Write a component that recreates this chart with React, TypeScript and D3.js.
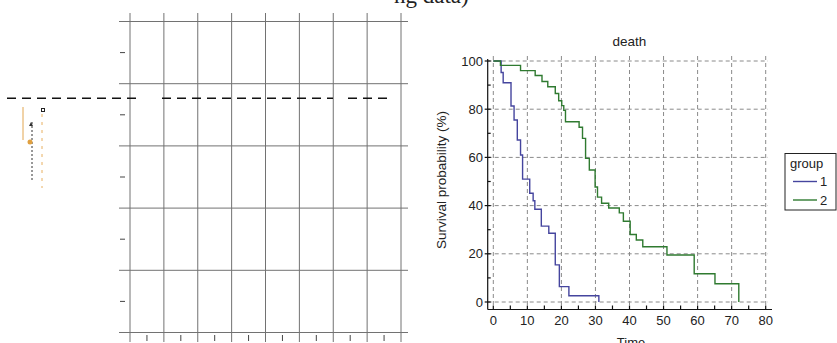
import React from "react";
import * as d3 from "d3";

// Kaplan–Meier step data: [time, survival %] after each drop
const group1Steps: [number, number][] = [
  [0, 100], [2.3, 95.2], [2.9, 91.0], [5.2, 81.3], [6.1, 75.5], [7.05, 67.2],
  [8.0, 61.0], [8.6, 51.0], [10.7, 45.1], [11.7, 42.0], [12.2, 38.5],
  [14.1, 31.5], [16.3, 28.5], [18.2, 15.4], [19.4, 6.4], [22.2, 2.6], [31.0, 0],
];
const group2Steps: [number, number][] = [
  [0, 100], [2.1, 98.2], [8.0, 96.0], [12.3, 94.0], [14.3, 91.5], [16.0, 89.3],
  [18.2, 86.5], [19.2, 83.5], [20.1, 81.5], [20.7, 79.5], [21.2, 74.8],
  [25.2, 72.5], [26.2, 67.9], [27.1, 59.6], [28.2, 54.8], [29.9, 47.7],
  [30.6, 43.5], [31.8, 41.0], [33.9, 39.0], [37.0, 37.0], [38.2, 33.5],
  [40.2, 28.0], [42.0, 25.7], [43.9, 22.9], [51.0, 19.5], [59.0, 11.7],
  [65.1, 7.6], [72.1, 0],
];
const groupNames = ["1", "2"];
const groupColors = ["#45459e", "#2f7a30"];
const xTickValues = [0, 10, 20, 30, 40, 50, 60, 70, 80];
const yTickValues = [0, 20, 40, 60, 80, 100];
const chartTitle = "death";
const xLabel = "Time";
const yLabel = "Survival probability (%)";

// Empty grid panel on the left
const gridCols = [0, 1, 2, 3, 4, 5, 6, 7, 8];
const gridRows = [0, 1, 2, 3, 4, 5];

export default function App() {
  const W = 837;
  const H = 343;
  const font = "'Liberation Sans', Arial, sans-serif";

  // Survival plot scales
  const x = d3.scaleLinear().domain([0, 80]).range([493.3, 765.7]);
  const y = d3.scaleLinear().domain([0, 100]).range([302, 61]);
  const axisX = 487.7;
  const axisY = 309.5;

  const stepLine = d3
    .line<[number, number]>()
    .x((d) => x(d[0]))
    .y((d) => y(d[1]))
    .curve(d3.curveStepAfter);

  // Left grid scales
  const gx = d3.scaleLinear().domain([0, 8]).range([130, 401]);
  const gy = d3.scaleLinear().domain([0, 5]).range([332.5, 21.5]);

  const minorX = d3.range(0, 81, 5);
  const minorY = d3.range(10, 100, 20);

  return (
    <svg
      width={W}
      height={H}
      style={{ position: "absolute", left: 0, top: 0, background: "#fff" }}
    >
      <rect width={W} height={H} fill="#fff" />

      {/* heading fragment */}
      <text x={394} y={3} fontFamily="'Liberation Serif', serif" fontSize={23} fill="#222">
        ng data)
      </text>

      {/* left grid panel */}
      <g stroke="#727272" strokeWidth={1}>
        {gridCols.map((c) => (
          <line key={"gc" + c} x1={gx(c)} x2={gx(c)} y1={13} y2={342} />
        ))}
        {gridRows.map((r) => (
          <line key={"gr" + r} x1={119} x2={408} y1={gy(r)} y2={gy(r)} />
        ))}
        {gridRows.slice(0, -1).map((r) => (
          <line key={"gm" + r} x1={120} x2={125} y1={gy(r + 0.5)} y2={gy(r + 0.5)} stroke="#444" />
        ))}
        {gridCols.slice(0, -1).map((c) => (
          <line key={"gxm" + c} x1={gx(c + 0.5)} x2={gx(c + 0.5)} y1={335} y2={341} stroke="#444" />
        ))}
      </g>

      {/* dashed reference line across the left panel */}
      <g stroke="#111" strokeWidth={1.6} strokeDasharray="9 6">
        <line x1={7} x2={137} y1={98.3} y2={98.3} />
        <line x1={162} x2={333} y1={98.3} y2={98.3} />
        <line x1={348} x2={393} y1={98.3} y2={98.3} />
      </g>

      {/* small marker cluster at the far left */}
      <g>
        <line x1={23} x2={23} y1={107} y2={140} stroke="#e2a650" strokeWidth={1} />
        <rect x={41.5} y={108.5} width={3} height={3} fill="none" stroke="#222" strokeWidth={1} />
        <line x1={42} x2={42} y1={114} y2={188} stroke="#e8b060" strokeWidth={1} strokeDasharray="3 5" />
        <line x1={32} x2={32} y1={122} y2={180} stroke="#333" strokeWidth={1} strokeDasharray="2 2" />
        <circle cx={30} cy={142} r={2.5} fill="#e0a040" />
        <path d="M31,122 l-2,4 h4 z" fill="#333" />
      </g>

      {/* survival plot: dashed grid */}
      <g stroke="#8a8a8a" strokeWidth={1} strokeDasharray="4 3">
        {yTickValues.map((v) => (
          <line key={"hy" + v} x1={axisX} x2={768} y1={y(v)} y2={y(v)} />
        ))}
        {xTickValues.map((v) => (
          <line key={"vx" + v} x1={x(v)} x2={x(v)} y1={56} y2={306} />
        ))}
      </g>

      {/* survival curves */}
      <path d={stepLine(group1Steps) ?? ""} fill="none" stroke={groupColors[0]} strokeWidth={1.4} />
      <path d={stepLine(group2Steps) ?? ""} fill="none" stroke={groupColors[1]} strokeWidth={1.4} />

      {/* axes */}
      <g stroke="#111" strokeWidth={1.2}>
        <line x1={axisX} x2={axisX} y1={59} y2={axisY} />
        <line x1={axisX} x2={772} y1={axisY} y2={axisY} />
        {yTickValues.map((v) => (
          <line key={"ty" + v} x1={axisX - 3} x2={axisX + 3} y1={y(v)} y2={y(v)} />
        ))}
        {minorY.map((v) => (
          <line key={"tym" + v} x1={axisX} x2={axisX + 3} y1={y(v)} y2={y(v)} />
        ))}
        {minorX.map((v) => (
          <line key={"tx" + v} x1={x(v)} x2={x(v)} y1={axisY} y2={axisY - 4} />
        ))}
      </g>

      <g fontFamily={font} fontSize={13} fill="#222">
        {yTickValues.map((v) => (
          <text key={"ly" + v} x={483} y={y(v)} dy="0.35em" textAnchor="end">
            {v}
          </text>
        ))}
        {xTickValues.map((v) => (
          <text key={"lx" + v} x={x(v)} y={325} textAnchor="middle">
            {v}
          </text>
        ))}
        <text x={629.5} y={46} textAnchor="middle" fontSize={13.5}>
          {chartTitle}
        </text>
        <text x={631} y={347} textAnchor="middle">
          {xLabel}
        </text>
        <text
          transform={`translate(446,180) rotate(-90)`}
          textAnchor="middle"
          fontSize={13.5}
        >
          {yLabel}
        </text>
      </g>

      {/* legend */}
      <g fontFamily={font} fontSize={13} fill="#222">
        <rect x={785} y={153.5} width={51} height={56.5} fill="#fff" stroke="#222" strokeWidth={1} />
        <text x={790} y={168}>group</text>
        {groupNames.map((g, i) => (
          <g key={"lg" + g}>
            <line x1={793} x2={817} y1={181.5 + i * 18.5} y2={181.5 + i * 18.5} stroke={groupColors[i]} strokeWidth={1.4} />
            <text x={820} y={186 + i * 18.5}>{g}</text>
          </g>
        ))}
      </g>
    </svg>
  );
}
